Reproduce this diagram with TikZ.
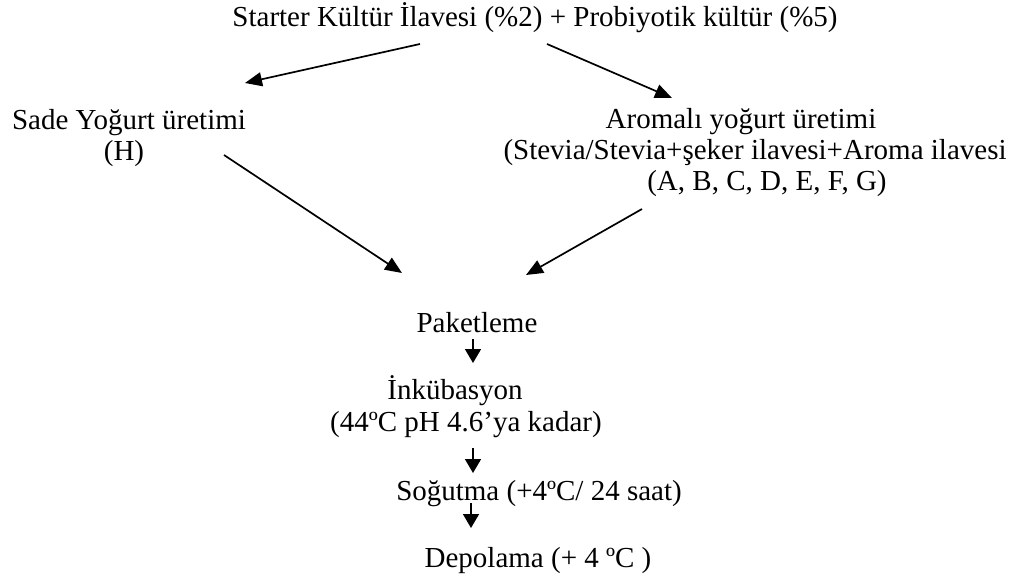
\documentclass[tikz,border=0pt]{standalone}
\usepackage{fontspec}
\setmainfont{Liberation Serif}
\usetikzlibrary{arrows.meta,calc}
\tikzset{
  lbl/.style={inner sep=0pt, anchor=base, font=\fontsize{29}{31}\selectfont},
  bigarr/.style={line width=1.7pt, -{Triangle[length=17pt,width=14pt]}},
  smallarr/.style={line width=1.7pt, -{Triangle[length=14pt,width=16pt]}}
}
\begin{document}
\begin{tikzpicture}[x=1pt,y=-1pt]
\useasboundingbox (0,0) rectangle (1016,578);
\node[lbl] (top) at (535,27) {Starter Kültür İlavesi (\%2) + Probiyotik kültür (\%5)};
\node[lbl] (sade1) at (129,129) {Sade Yoğurt üretimi};
\node[lbl] (sade2) at (124,160) {(H)};
\node[lbl] (arom1) at (741,128) {Aromalı yoğurt üretimi};
\node[lbl] (arom2) at (755,159) {(Stevia/Stevia+şeker ilavesi+Aroma ilavesi};
\node[lbl] (arom3) at (767,190) {(A, B, C, D, E, F, G)};
\node[lbl] (pak) at (477,332) {Paketleme};
\node[lbl] (ink1) at (455,399) {İnkübasyon};
\node[lbl] (ink2) at (466,431) {(44ºC pH 4.6’ya kadar)};
\node[lbl] (sog) at (539,500) {Soğutma (+4ºC/ 24 saat)};
\node[lbl] (dep) at (538,567) {Depolama (+ 4 ºC )};

\draw[bigarr] ($(top.base)+(-115,17)$) -- ($(sade1.base)+(116,-46)$);
\draw[bigarr] ($(top.base)+(12,17)$) -- ($(arom1.base)+(-69,-30)$);
\draw[bigarr] ($(sade2.base)+(100,-5)$) -- ($(pak.base)+(-75,-59)$);
\draw[bigarr] ($(arom3.base)+(-125,19)$) -- ($(pak.base)+(49,-57)$);
\draw[smallarr] ($(pak.base)+(-4,7)$) -- ($(ink1.base)+(18,-36)$);
\draw[smallarr] ($(ink2.base)+(7,17)$) -- ($(sog.base)+(-66,-27)$);
\draw[smallarr] ($(sog.base)+(-68,3)$) -- ($(dep.base)+(-67,-39)$);
\end{tikzpicture}
\end{document}
